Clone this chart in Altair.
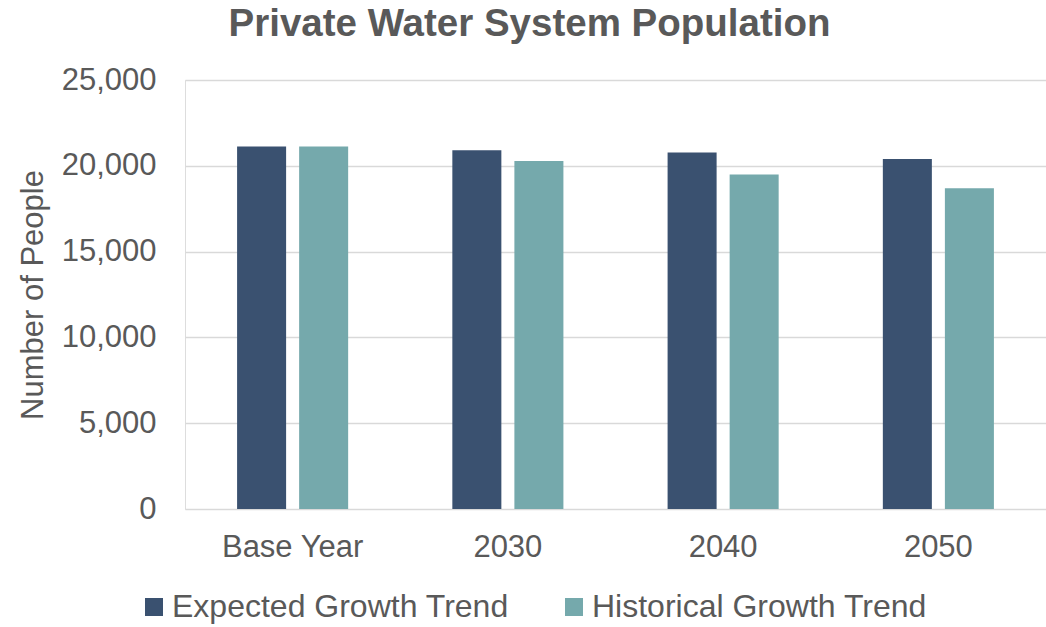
import altair as alt
import pandas as pd

categories = ["Base Year", "2030", "2040", "2050"]
series = ["Expected Growth Trend", "Historical Growth Trend"]
expected = [21130, 20900, 20770, 20400]
historical = [21130, 20280, 19490, 18690]
colors = ["#3A5170", "#75A9AC"]

rows = []
for i, c in enumerate(categories):
    rows.append({"cat": c, "series": series[0], "value": expected[i]})
    rows.append({"cat": c, "series": series[1], "value": historical[i]})
df = pd.DataFrame(rows)

FONT = "Liberation Sans"
TXT = "#595959"

chart = alt.Chart(df).mark_bar().encode(
    x=alt.X("cat:N", sort=categories, title=None,
            scale=alt.Scale(paddingInner=0.484, paddingOuter=0.242),
            axis=alt.Axis(labelAngle=0, ticks=False, domain=False, labelFontSize=31,
                          labelFont=FONT, labelColor=TXT, labelPadding=23)),
    xOffset=alt.XOffset("series:N", sort=series,
                        scale=alt.Scale(paddingInner=0.21, paddingOuter=0)),
    y=alt.Y("value:Q", title="Number of People",
            scale=alt.Scale(domain=[0, 25000]),
            axis=alt.Axis(values=[0, 5000, 10000, 15000, 20000, 25000], format=",d",
                          ticks=False, domain=False, labelFontSize=31, labelFont=FONT,
                          labelColor=TXT, labelPadding=29, titleFontSize=31,
                          titleFont=FONT, titleColor=TXT, titleFontWeight="normal",
                          titlePadding=12, gridColor="#D9D9D9", gridWidth=1.5)),
    color=alt.Color("series:N", sort=series,
                    scale=alt.Scale(domain=series, range=colors),
                    legend=alt.Legend(title=None, orient="none", direction="horizontal",
                                      legendX=-47, legendY=511, symbolType="square",
                                      symbolSize=324, symbolStrokeWidth=0,
                                      labelFontSize=32, labelFont=FONT, labelColor=TXT,
                                      labelOffset=2, columnPadding=49,
                                      labelLimit=400)),
).properties(
    width=861,
    height=429,
    title=alt.TitleParams("Private Water System Population", fontSize=38.5,
                          fontWeight="bold", font=FONT, color=TXT, anchor="middle",
                          dx=-86, offset=20),
    padding={"left": 185, "top": 80, "right": 0, "bottom": 118},
    autosize=alt.AutoSizeParams(type="none"),
).configure_view(stroke=None).configure(background="white")

chart.save("out.html", embed_options={"renderer": "svg", "actions": False})
